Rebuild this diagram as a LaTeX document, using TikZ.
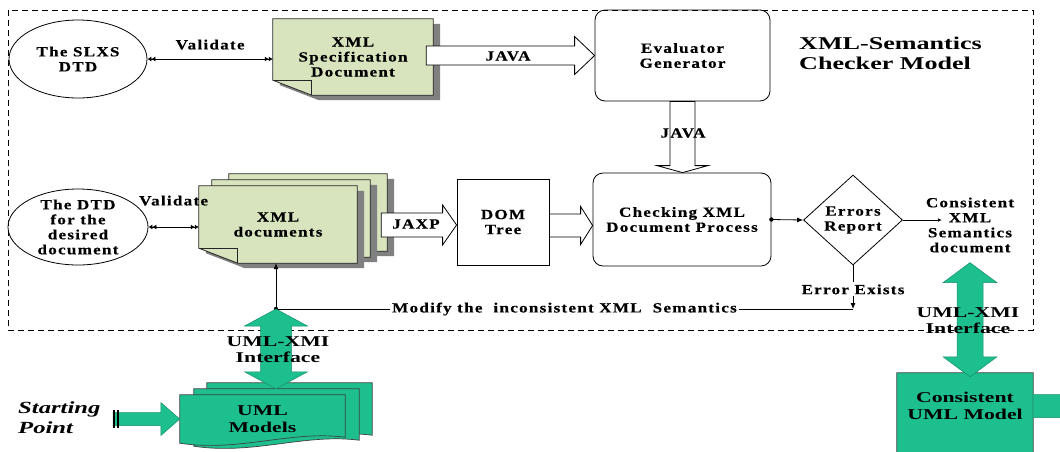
\documentclass[tikz,border=0pt]{standalone}
\usepackage{fontspec}
\setmainfont{Liberation Serif}[FakeStretch=1.22, LetterSpace=9, FakeBold=0.4]
\newfontfamily\widefont{Liberation Serif}[FakeStretch=1.45]
\usetikzlibrary{arrows.meta, positioning, shapes.geometric, calc, backgrounds}
\definecolor{notegreen}{RGB}{215,228,189}
\definecolor{umlgreen}{RGB}{29,191,143}
\definecolor{docshade}{RGB}{128,128,128}

% note with folded corner (plus shadow), drawn round a node
\newcommand{\notedoc}[3]{%
  \fill[docshade] ([xshift=#2+7pt,yshift=#3-5pt]#1.north west) -- ([xshift=#2+7pt,yshift=#3-5pt]#1.north east)
    -- ([xshift=#2+7pt,yshift=#3-5pt]#1.south east) -- ([xshift=#2+46pt,yshift=#3-5pt]#1.south west)
    -- ([xshift=#2+7pt,yshift=#3+10pt]#1.south west) -- cycle;
  \filldraw[notedoc] ([xshift=#2,yshift=#3]#1.north west) -- ([xshift=#2,yshift=#3]#1.north east)
    -- ([xshift=#2,yshift=#3]#1.south east) -- ([xshift=#2+39pt,yshift=#3]#1.south west)
    -- ([xshift=#2,yshift=#3+15pt]#1.south west) -- cycle;
  \draw[notedoc, fill=none] ([xshift=#2,yshift=#3+15pt]#1.south west) -- ([xshift=#2+39pt,yshift=#3+15pt]#1.south west)
    -- ([xshift=#2+39pt,yshift=#3]#1.south west);}
% document with wavy bottom (#4: extra depth)
\newcommand{\wavedoc}[4]{%
  \filldraw[umldoc] ([xshift=#2,yshift=#3]#1.north west) -- ([xshift=#2,yshift=#3]#1.north east)
    -- ([xshift=#2,yshift=#3-#4+6pt]#1.south east)
    .. controls ([xshift=#2-55pt,yshift=#3-#4+13pt]#1.south east) and ([xshift=#2+60pt,yshift=#3-#4-9pt]#1.south west)
    .. ([xshift=#2,yshift=#3-#4]#1.south west) -- cycle;}
% hollow block arrow pointing right
\newcommand{\hollowright}[5]{%
  \draw[hollow] let \p1=(#1), \p2=(#2) in
    (\x1,\y2+#3) -- (\x2-#5,\y2+#3) -- (\x2-#5,\y2+#4) -- (\x2,\y2) -- (\x2-#5,\y2-#4)
    -- (\x2-#5,\y2-#3) -- (\x1,\y2-#3) -- cycle;}
% green double block arrow, up and down
\newcommand{\greenupdown}[5]{%
  \filldraw[umlarrow] let \p1=(#1), \p2=(#2) in
    (\x1,\y1) -- (\x1+#4,\y1-#5) -- (\x1+#3,\y1-#5) -- (\x1+#3,\y2+#5) -- (\x1+#4,\y2+#5) -- (\x1,\y2)
    -- (\x1-#4,\y2+#5) -- (\x1-#3,\y2+#5) -- (\x1-#3,\y1-#5) -- (\x1-#4,\y1-#5) -- cycle;}

\begin{document}
\begin{tikzpicture}[x=1pt, y=-1pt,
    txt/.style={font=\fontsize{14}{15}\selectfont\bfseries, align=center, inner sep=0pt},
    bigtxt/.style={font=\widefont\fontsize{15}{16.5}\selectfont\bfseries, align=center, inner sep=0pt},
    thinline/.style={line width=0.8pt},
    arr/.style={thinline, -{Latex[length=6pt,width=5pt]}},
    smallarr/.style={thinline, -{Latex[length=4pt,width=3.5pt]}},
    dblarr/.style={thinline, {Latex[length=4pt,width=5pt]Latex[length=4pt,width=5pt]}-{Latex[length=4pt,width=5pt]Latex[length=4pt,width=5pt]}},
    hollow/.style={thinline, fill=white},
    notedoc/.style={thinline, fill=notegreen, draw=black!85},
    umldoc/.style={line width=0.7pt, fill=umlgreen, draw=black!75},
    umlarrow/.style={line width=0.5pt, fill=umlgreen, draw=umlgreen!75!black},
    roundbox/.style={txt, draw, thinline, rounded corners=10pt},
    checkerframe/.style={thinline, dash pattern=on 6pt off 4pt}
  ]
  \useasboundingbox (0,0) rectangle (1060,451);
  \clip (0,0) rectangle (1060,451);

  \node[txt, ellipse, draw, thinline, minimum width=138, minimum height=78] (slxs) at (78,59) {The SLXS\\DTD};
  \node[txt, minimum width=160, minimum height=76] (spec) at (353,57) {XML\\Specification\\Document};
  \node[roundbox, minimum width=175, minimum height=91] (evalgen) at (682.5,55.5) {Evaluator\\Generator};
  \node[font=\widefont\fontsize{18}{20}\selectfont\bfseries, align=left, anchor=west, inner sep=0pt] (title) at (799,53) {XML-Semantics\\Checker Model};
  \node[ellipse, draw, thinline, minimum width=140, minimum height=76, inner sep=0pt,
        label={[txt]center:The DTD\\for the\\desired\\document}] (dtd) at (78,227) {};
  \node[txt, minimum width=158, minimum height=77] (xmldocs) at (278,224.5) {XML\\documents};
  \node[txt, draw, thinline, minimum width=92, minimum height=86] (domtree) at (503,222) {DOM\\Tree};
  \node[roundbox, minimum width=178, minimum height=93] (checking) at (682,219.5) {Checking XML\\Document Process};
  \node[txt, diamond, draw, thinline, aspect=1.1, minimum width=99, minimum height=90] (errors) at (853,220) {Errors\\Report};
  \node[txt] (consdoc) at (970,225) {Consistent\\XML\\Semantics\\document};
  \node[bigtxt, minimum width=165, minimum height=48] (umlmodels) at (262.5,419) {UML\\Models};
  \node[bigtxt, minimum width=136, minimum height=66] (consuml) at (965,406) {Consistent\\UML Model};
  \node[font=\widefont\fontsize{17}{20}\selectfont\bfseries\itshape, align=left, anchor=west, inner sep=0pt] (start) at (18,418) {Starting\\Point};

  \coordinate (modjoint) at (276,309);
  \coordinate (errturn) at (853,309);
  \coordinate (consin) at (942,220);
  \coordinate (starttail) at (113,418.5);
  \coordinate (exitend) at (1085,406.5);

  \begin{scope}[on background layer]
    \draw[checkerframe] (8,10) rectangle (1033,330);
    \notedoc{spec}{0pt}{0pt}
    \notedoc{xmldocs}{30pt}{12pt}
    \notedoc{xmldocs}{13pt}{6pt}
    \notedoc{xmldocs}{0pt}{0pt}
    \wavedoc{umlmodels}{27pt}{12pt}{10pt}
    \wavedoc{umlmodels}{14pt}{6pt}{9pt}
    \wavedoc{umlmodels}{0pt}{0pt}{0pt}
    \filldraw[umldoc] (consuml.north west) -- (consuml.north east) -- ([yshift=-20pt]consuml.south east)
      .. controls ([xshift=-50pt,yshift=-14pt]consuml.south east) and ([xshift=50pt,yshift=-30pt]consuml.south west)
      .. ([yshift=-24pt]consuml.south west) -- cycle;
  \end{scope}

  \draw[dblarr] (slxs.east) -- (slxs.east -| spec.west) node[txt, midway, above=9pt] (val1) {Validate};
  \draw[dblarr] (dtd.east) -- (dtd.east -| xmldocs.west) node[txt, midway, above=21pt] (val2) {Validate};

  \hollowright{[xshift=-7pt]spec.east}{evalgen.west}{9.5pt}{19pt}{20pt}
  \node[txt] (javah) at (508,56) {JAVA};
  \draw[hollow] let \p1=(evalgen.south), \p2=(checking.north) in
    (\x1-12.5pt,\y1) -- (\x1-12.5pt,\y2+7pt) -- (\x1-25.5pt,\y2+7pt) -- (\x1,\y2)
    -- (\x1+25.5pt,\y2+7pt) -- (\x1+12.5pt,\y2+7pt) -- (\x1+12.5pt,\y1) -- cycle;
  \node[txt] (javav) at (683,133) {JAVA};
  \hollowright{[xshift=24pt]xmldocs.east}{[yshift=-3pt]domtree.west}{12pt}{20pt}{14pt}
  \node[txt] (jaxp) at (416,224) {JAXP};
  \hollowright{domtree.east}{[yshift=-6pt]checking.west}{11.5pt}{19pt}{12pt}

  \fill (checking.east) circle (2.2);
  \draw[arr] (checking.east) -- (errors.west);
  \draw[smallarr] (errors.east) -- (consin);
  \draw[arr] (errors.south) -- (errturn) node[txt, pos=0.55, fill=white, inner sep=2pt] (errex) {Error Exists};
  \draw[thinline] (errturn) -- (modjoint) node[txt, midway, fill=white, inner sep=2pt] (modlbl) {Modify the~ inconsistent XML~ Semantics};
  \draw[arr] (modjoint) -- (modjoint |- xmldocs.south);
  \fill (modjoint) circle (2.2);

  \greenupdown{modjoint}{[yshift=6pt]umlmodels.north}{15.5pt}{31.5pt}{17pt}
  \node[bigtxt] (umlxmi1) at (278,349.5) {UML-XMI\\Interface};
  \greenupdown{[yshift=-10pt]consdoc.south}{[yshift=-4pt]consuml.north}{13pt}{27pt}{20pt}
  \node[bigtxt] (umlxmi2) at (968,320.5) {UML-XMI\\Interface};

  \filldraw[umlarrow] let \p1=(starttail), \p2=(umlmodels.west) in
    (\x1,\y2+6.5pt) -- (\x2-19pt,\y2+6.5pt) -- (\x2-19pt,\y2+16.5pt) -- (\x2,\y2)
    -- (\x2-19pt,\y2-16.5pt) -- (\x2-19pt,\y2-6.5pt) -- (\x1,\y2-6.5pt) -- cycle;
  \draw[line width=1.2pt] ([xshift=1pt,yshift=9pt]starttail) -- ([xshift=1pt,yshift=-9pt]starttail)
    ([xshift=5pt,yshift=9pt]starttail) -- ([xshift=5pt,yshift=-9pt]starttail);
  \filldraw[umlarrow] let \p1=(consuml.east), \p2=(exitend) in
    (\x1,\y1+11.5pt) -- (\x2-20pt,\y1+11.5pt) -- (\x2-20pt,\y1+20pt) -- (\x2,\y1)
    -- (\x2-20pt,\y1-20pt) -- (\x2-20pt,\y1-11.5pt) -- (\x1,\y1-11.5pt) -- cycle;
\end{tikzpicture}
\end{document}
